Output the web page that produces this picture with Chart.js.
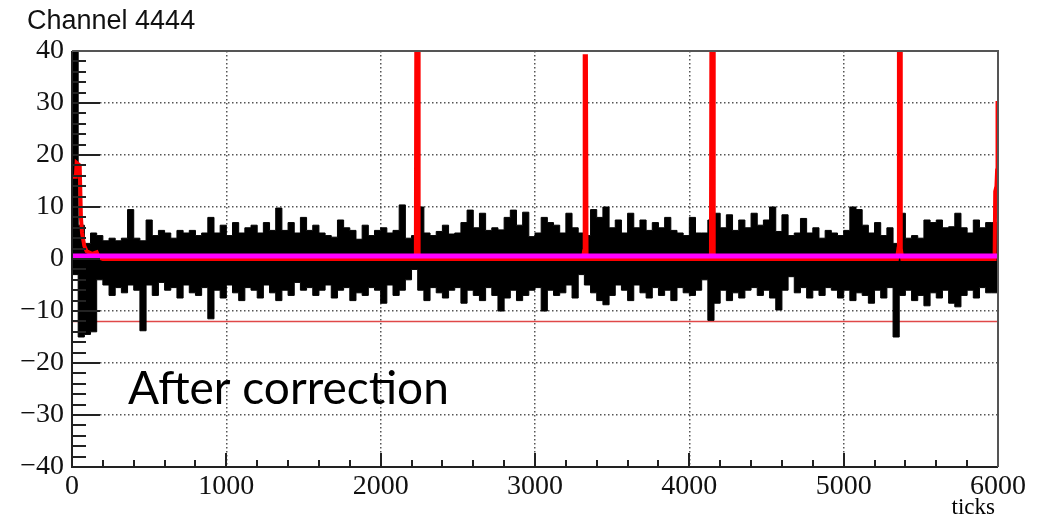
<!DOCTYPE html>
<html>
<head>
<meta charset="utf-8">
<script src="https://cdn.jsdelivr.net/npm/chart.js@4.4.0/dist/chart.umd.min.js"></script>
<style>
  html, body { margin: 0; padding: 0; background: #fff; }
  #wrap { width: 1051px; height: 519px; position: relative; }
</style>
</head>
<body>
<div id="wrap"><canvas id="c" width="1051" height="519"></canvas></div>
<script>
// waveform, binned at 40 ticks: top and bottom of the black band
var binWidth = 40;
var bandUpper = [
  3, 40, 6.5, 3, 5, 4.5, 3.5, 4, 3.5, 4,
  9.5, 4, 3.5, 7.5, 4.5, 5.5, 5, 4, 5.5, 5,
  5.5, 4.5, 5, 8, 5, 6.5, 4.5, 7, 5, 6,
  6.5, 5, 7, 5.5, 9.8, 5.5, 7, 5, 8, 5.5,
  6.5, 5, 4.5, 4.2, 7.5, 6, 5.5, 3.8, 6.5, 4.5,
  5.5, 6, 5, 5.5, 10.4, 4, 4.5, 10, 5, 4.5,
  5.3, 6.5, 4.8, 5, 7, 9.4, 6, 8.8, 5.5, 6,
  5.6, 8, 9.4, 6.5, 9, 4.3, 5, 8, 7, 6.5,
  5, 8.8, 6, 5, 4.5, 9.5, 8, 10, 6, 7.5,
  5, 8.8, 6, 7.5, 5.5, 7, 6, 8, 5.5, 5,
  4.5, 8, 5, 5, 7.5, 8.8, 6, 8.5, 5.5, 7.5,
  6, 8.8, 6.5, 7.5, 10, 5.3, 8.5, 4.5, 5, 7.8,
  5, 6, 4, 5.5, 5, 4.5, 5.5, 10, 9.5, 6.5,
  5, 7, 4.5, 6, 3, 8.8, 4, 4.5, 4, 7.5,
  7, 7.5, 6, 6.2, 8.8, 6, 5, 7.5, 6, 7
];
var bandLower = [
  -0.5, -3, -15, -14.5, -14, -4, -5, -7, -5.5, -6.5,
  -5, -6, -13.8, -5, -7, -4.5, -6, -5.5, -7.5, -5,
  -6.5, -7, -5.5, -11.5, -6, -7.5, -5, -6.5, -8, -5.5,
  -6, -7.5, -5, -6.5, -8, -6, -7, -4.5, -6, -5.5,
  -7, -6, -5, -7.5, -6, -5.5, -8, -6.5, -7, -5.5,
  -6, -8.5, -5, -7, -6, -4, -2, -6, -8, -5.5,
  -6.5, -7.5, -6, -5.5, -8.5, -6, -7, -8, -5.5, -7,
  -10, -7.5, -6, -8, -7, -6, -5.5, -10, -6, -7,
  -6.5, -5, -7.5, -3, -5, -6.5, -8, -8.8, -7, -5,
  -6, -8, -5, -6.5, -7.5, -5.5, -7, -6, -8, -5.5,
  -6.5, -7, -6, -4, -11.8, -8.5, -6, -8, -6.5, -7.5,
  -6, -5.5, -7, -6, -7.5, -9.8, -6, -3.4, -6.5, -5.5,
  -7.5, -6, -7, -5.5, -6, -7.5, -6, -8, -6.5, -7,
  -8.5, -6, -7.5, -5.5, -15, -7, -6, -8, -7, -9,
  -6.5, -7.5, -6, -8.5, -9.2, -7, -6, -7.5, -5.5, -6.5
];

// red pulse trace
var pulseTicks  = [0, 25, 30, 50, 58, 65, 80, 95, 130, 160, 175, 200,
                   2228, 2232, 2242, 2246,
                   3310, 3318, 3322, 3330, 3334,
                   4140, 4144, 4154, 4158,
                   5345, 5355, 5358, 5366, 5370, 5380,
                   5978, 5982, 5990, 5994, 5997, 6000];
var pulseValues = [15.8, 15.8, 18.5, 18, 8, 5, 2.5, 1.5, 1, 1.3, 0.3, 0,
                   0, 60, 60, 0,
                   0, 1.5, 39, 39, 0,
                   0, 60, 60, 0,
                   0, 2, 60, 60, 2, 0,
                   0, 13, 14, 17, 30, 30];

var baselineLevel = 0.6;
var thresholdLevel = -12;
var xMin = 0, xMax = 6000, xStep = 1000, xMinor = 200;
var yMin = -40, yMax = 40, yStep = 10, yMinor = 2;

function binned(vals) {
  var pts = vals.map(function (v, i) { return { x: i * binWidth, y: v }; });
  pts.push({ x: xMax, y: vals[vals.length - 1] });
  return pts;
}

var pulse = pulseTicks.map(function (t, i) { return { x: t, y: pulseValues[i] }; });

// ROOT-like inner ticks, frame and free text
var framePlugin = {
  id: 'frame',
  afterDatasetsDraw: function (chart) {
    var ctx = chart.ctx, a = chart.chartArea;
    var xs = chart.scales.x, ys = chart.scales.y;
    ctx.save();
    ctx.strokeStyle = '#222';
    ctx.lineWidth = 2;
    ctx.beginPath();
    for (var v = xMin; v <= xMax; v += xMinor) {
      var px = Math.round(xs.getPixelForValue(v));
      var len = v % xStep === 0 ? 14 : 7;
      ctx.moveTo(px, a.bottom);
      ctx.lineTo(px, a.bottom - len);
    }
    for (var w = yMin; w <= yMax; w += yMinor) {
      var py = Math.round(ys.getPixelForValue(w));
      var len2 = w % yStep === 0 ? 28 : 14;
      ctx.moveTo(a.left, py);
      ctx.lineTo(a.left + len2, py);
    }
    ctx.moveTo(a.left, a.top);
    ctx.lineTo(a.left, a.bottom);
    ctx.lineTo(a.right, a.bottom);
    ctx.stroke();
    ctx.strokeStyle = '#555';
    ctx.beginPath();
    ctx.moveTo(a.left, a.top);
    ctx.lineTo(a.right, a.top);
    ctx.lineTo(a.right, a.bottom);
    ctx.stroke();

    ctx.fillStyle = '#111';
    ctx.font = '27px "Liberation Sans"';
    ctx.textBaseline = 'alphabetic';
    ctx.textAlign = 'left';
    ctx.fillText('Channel 4444', 27, 29);
    ctx.fillStyle = '#000';
    ctx.font = '46px Lato';
    ctx.fillText('After correction', 128, 404);
    ctx.font = '23px "Liberation Serif"';
    ctx.textAlign = 'right';
    ctx.fillText('ticks', 995, 514);
    ctx.restore();
  }
};

var ctx = document.getElementById('c').getContext('2d');
new Chart(ctx, {
  type: 'line',
  data: {
    datasets: [
      { data: [{ x: xMin, y: baselineLevel }, { x: xMax, y: baselineLevel }],
        borderColor: '#ff00ff', borderWidth: 5, order: 1 },
      { data: pulse, borderColor: '#ff0000', borderWidth: 4, order: 2 },
      { data: binned(bandUpper), stepped: 'after', borderColor: '#000', borderWidth: 1,
        backgroundColor: '#000', fill: '+1', order: 4 },
      { data: binned(bandLower), stepped: 'after', borderColor: '#000', borderWidth: 1,
        fill: false, order: 4 },
      { data: [{ x: xMin, y: thresholdLevel }, { x: xMax, y: thresholdLevel }],
        borderColor: '#e04848', borderWidth: 1.5, order: 6 }
    ]
  },
  options: {
    responsive: false,
    animation: false,
    devicePixelRatio: 1,
    elements: { point: { radius: 0 }, line: { tension: 0 } },
    layout: { padding: { left: 0, top: 51, right: 53, bottom: 0 } },
    plugins: { legend: { display: false }, tooltip: { enabled: false } },
    scales: {
      x: {
        type: 'linear', min: xMin, max: xMax,
        afterFit: function (s) { s.height = 52; },
        ticks: { stepSize: xStep, padding: 3, maxRotation: 0,
                 font: { family: 'Liberation Serif', size: 28 }, color: '#111',
                 callback: function (v) { return String(v); } },
        grid: { color: '#555', lineWidth: 1.5, drawTicks: false },
        border: { display: false, dash: [1.5, 2.5] }
      },
      y: {
        min: yMin, max: yMax,
        afterFit: function (s) { s.width = 72; },
        ticks: { stepSize: yStep, padding: 8,
                 font: { family: 'Liberation Serif', size: 28 }, color: '#111',
                 callback: function (v) { return v < 0 ? '\u2212' + Math.abs(v) : String(v); } },
        grid: { color: '#555', lineWidth: 1.5, drawTicks: false },
        border: { display: false, dash: [1.5, 2.5] }
      }
    }
  },
  plugins: [framePlugin]
});
</script>
</body>
</html>
